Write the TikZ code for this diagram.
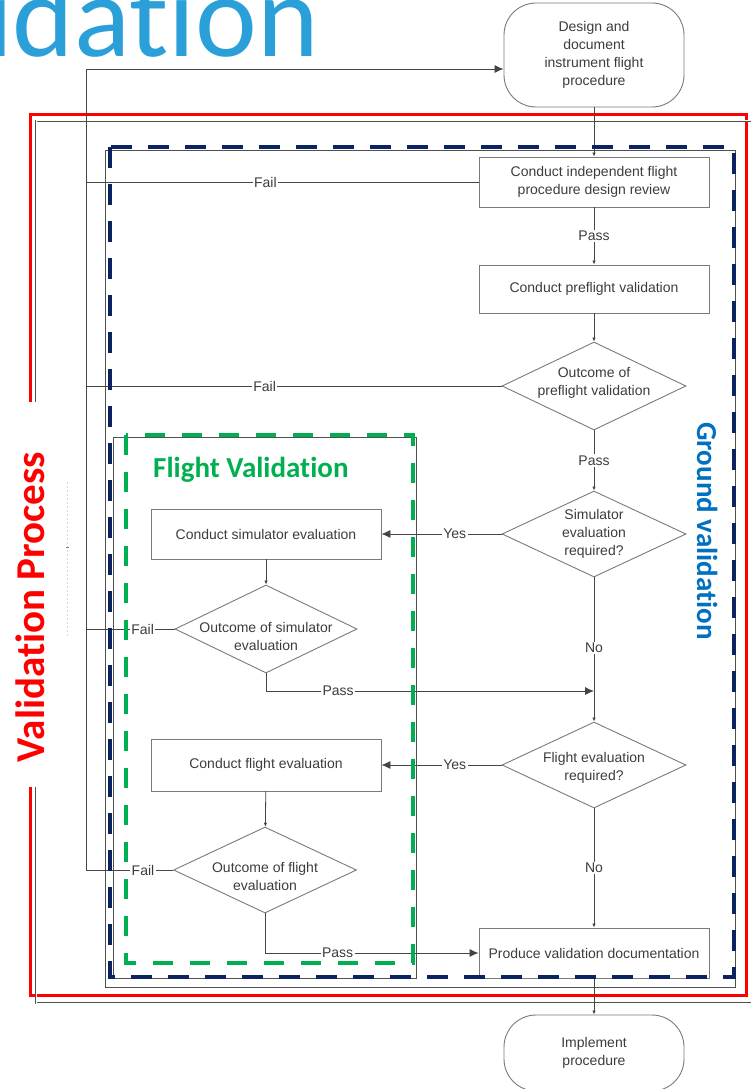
\documentclass[tikz,border=0pt]{standalone}
\usepackage{fontspec}
\setmainfont{Liberation Sans}
\newfontfamily\calfont{Carlito}[Ligatures=NoCommon]
\usetikzlibrary{arrows.meta,shapes.geometric}

\definecolor{inkgray}{HTML}{3C3C3C}
\definecolor{boxgray}{HTML}{7A7A7A}
\definecolor{linegray}{HTML}{454545}
\definecolor{framegray}{HTML}{505050}
\definecolor{titleblue}{HTML}{2A9FD8}
\definecolor{groundblue}{HTML}{0070C0}
\definecolor{navyframe}{HTML}{0B2361}
\definecolor{flightgreen}{HTML}{00B050}
\definecolor{procred}{HTML}{FF0000}
\definecolor{faintblue}{HTML}{C6DCE4}

\begin{document}
\begin{tikzpicture}[x=1pt,y=-1pt,
  flowtext/.style={font=\fontsize{14}{18}\selectfont, text=inkgray, align=center},
  process/.style={flowtext, draw=boxgray, line width=0.9pt, rectangle,
    minimum width=230pt, minimum height=50pt, inner sep=0pt},
  terminal/.style={process, rounded corners=32pt, minimum width=180pt},
  decision/.style={draw=boxgray, line width=0.9pt, diamond, inner sep=0pt,
    minimum width=184pt, minimum height=87pt},
  dlabel/.style={flowtext, inner sep=0pt},
  edgelabel/.style={font=\fontsize{14}{16}\selectfont, text=inkgray, fill=white, inner sep=1.5pt},
  link/.style={draw=linegray, line width=0.8pt},
  tip/.style={-{Latex[length=4pt,width=3.5pt]}},
  bigtip/.style={-{Latex[length=9pt,width=8pt]}},
  frame/.style={draw=framegray, line width=0.9pt},
  bigtitle/.style={font=\calfont\bfseries\fontsize{29}{29}\selectfont, inner sep=0pt},
]
\useasboundingbox (0,0) rectangle (750,1089);

% slide title, running off the page
\node[anchor=base west, inner sep=0pt, text=titleblue,
  font=\calfont\fontsize{117}{117}\selectfont] (title) at (-14,57) {idation};

% outer frames
\draw[procred, line width=3pt] (30,115) rectangle (746,995);
\draw[frame, double=white, double distance=1pt, line width=0.6pt] (36,121) rectangle (770,1003);
\draw[frame] (105,150) rectangle (735,987);
\draw[frame] (113,437) rectangle (416,978);

% faint guide near the left edge
\draw[faintblue, line width=0.6pt, dash pattern=on 2pt off 2pt] (67,482) -- (67,637);
\draw[gray, line width=0.8pt] (66,547) -- (69,547);

% main column
\node[terminal, minimum height=104pt] (start) at (594,55) {Design and\\document\\instrument flight\\procedure};
\node[process] (review) at (594,182) {Conduct independent flight\\procedure design review};
\node[process, minimum height=48pt] (pre) at (594,289) {Conduct preflight validation};
\node[decision, minimum height=88pt] (dpre) at (594,386) {};
\node[dlabel] (dpretext) at (594,383) {Outcome of\\preflight validation};
\node[decision, minimum height=86pt] (dsim) at (594,534) {};
\node[dlabel] (dsimtext) at (594,534) {Simulator\\evaluation\\required?};
\node[decision, minimum height=86pt] (dfl) at (594,765) {};
\node[dlabel] (dfltext) at (594,768) {Flight evaluation\\required?};
\node[process] (prod) at (594,953) {Produce validation documentation};
\node[terminal, minimum height=76pt] (impl) at (594,1053) {Implement\\procedure};

% flight validation column
\node[process] (sim) at (266,534) {Conduct simulator evaluation};
\node[decision, minimum width=182pt, minimum height=88pt] (dsimo) at (266,629) {};
\node[dlabel] (dsimotext) at (266,636) {Outcome of simulator\\evaluation};
\node[process, minimum height=52pt] (fl) at (266,765) {Conduct flight evaluation};
\node[decision, minimum width=183pt, minimum height=86pt] (dflo) at (265,870) {};
\node[dlabel] (dflotext) at (265,876) {Outcome of flight\\evaluation};

% return path on the left
\coordinate (looptop) at (86,69);
\coordinate (loopbottom) at (86,870);
\coordinate (merge) at (594,691);

% connectors
\draw[link,tip] (start) -- (review);
\draw[link,tip] (review) -- node[edgelabel]{Pass} (pre);
\draw[link,tip] (pre) -- (dpre);
\draw[link,tip] (dpre) -- node[edgelabel]{Pass} (dsim);
\draw[link,bigtip] (dsim.west) -- node[edgelabel,pos=0.39]{Yes} (dsim.west -| sim.east);
\draw[link,tip] (dsim) -- node[edgelabel,pos=0.49]{No} (dfl);
\draw[link,tip] (sim) -- (dsimo);
\draw[link,bigtip] (dsimo.south) |- node[edgelabel,pos=0.61]{Pass} (merge);
\draw[link,bigtip] (dfl.west) -- node[edgelabel,pos=0.39]{Yes} (dfl.west -| fl.east);
\draw[link,tip] (fl) -- (dflo);
\draw[link,bigtip] (dflo.south) |- node[edgelabel,pos=0.67]{Pass} (prod.west);
\draw[link,tip] (dfl) -- node[edgelabel]{No} (prod);
\draw[link,tip] (prod) -- (impl);

\draw[link] (review.west) -- node[edgelabel,pos=0.543]{Fail} (review.west -| looptop);
\draw[link] (dpre.west) -- node[edgelabel,pos=0.57]{Fail} (dpre.west -| looptop);
\draw[link] (dsimo.west) -- node[edgelabel,pos=0.36]{Fail} (dsimo.west -| looptop);
\draw[link,bigtip] (dflo.west) -- node[edgelabel,pos=0.345]{Fail} (loopbottom)
  -- (looptop) -- (looptop -| start.west);

% dashed group outlines
\draw[navyframe, line width=4pt, dash pattern=on 21pt off 16pt] (110,147) rectangle (734,977);
\draw[flightgreen, line width=4pt, dash pattern=on 20pt off 17pt] (126,435) rectangle (413,963);

% group captions
\node[bigtitle, anchor=base west, text=flightgreen] (flightcap) at (153,477) {Flight Validation};
\node[bigtitle, anchor=base, rotate=-90, text=groundblue] (groundcap) at (697,531) {Ground validation};
\fill[white] (24,402) rectangle (42,787);
\node[anchor=base, rotate=90, inner sep=0pt, text=procred,
  font=\calfont\bfseries\fontsize{41}{41}\selectfont] (processcap) at (44,607) {Validation Process};
\end{tikzpicture}
\end{document}
